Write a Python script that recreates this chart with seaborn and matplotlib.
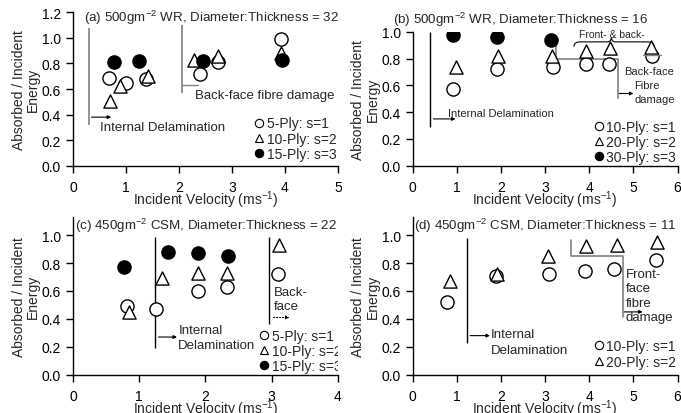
import numpy as np
import pandas as pd
import matplotlib
matplotlib.use("Agg")
import matplotlib.pyplot as plt
import seaborn as sns
from matplotlib.lines import Line2D
from matplotlib.path import Path
from matplotlib.patches import PathPatch
from matplotlib.ticker import FormatStrFormatter

# ---------------- data ----------------
# (a) 500 g/m2 WR, D:T = 32
a5_x = [0.67, 1.00, 1.37, 2.40, 2.74, 3.92]
a5_y = [0.69, 0.65, 0.68, 0.72, 0.81, 0.99]
a10_x = [0.70, 0.89, 1.41, 2.29, 2.74, 3.92]
a10_y = [0.51, 0.62, 0.70, 0.83, 0.86, 0.88]
a15_x = [0.77, 1.25, 2.45, 3.95]
a15_y = [0.81, 0.82, 0.82, 0.83]
a_labels = ["5-Ply: s=1", "10-Ply: s=2", "15-Ply: s=3"]

# (b) 500 g/m2 WR, D:T = 16
b10_x = [0.92, 1.91, 3.18, 3.93, 4.44, 5.41]
b10_y = [0.575, 0.72, 0.74, 0.76, 0.76, 0.82]
b20_x = [0.98, 1.93, 3.16, 3.93, 4.46, 5.40]
b20_y = [0.735, 0.82, 0.82, 0.86, 0.877, 0.89]
b30_x = [0.92, 1.91, 3.14]
b30_y = [0.98, 0.96, 0.94]
b_labels = ["10-Ply: s=1", "20-Ply: s=2", "30-Ply: s=3"]

# (c) 450 g/m2 CSM, D:T = 22
c5_x = [0.81, 1.25, 1.89, 2.33, 3.10]
c5_y = [0.49, 0.47, 0.60, 0.63, 0.72]
c10_x = [0.85, 1.35, 1.89, 2.33, 3.11]
c10_y = [0.45, 0.69, 0.73, 0.73, 0.93]
c15_x = [0.77, 1.43, 1.89, 2.34]
c15_y = [0.77, 0.88, 0.87, 0.85]
c_labels = ["5-Ply: s=1", "10-Ply: s=2", "15-Ply: s=3"]

# (d) 450 g/m2 CSM, D:T = 11
d10_x = [0.77, 1.88, 3.09, 3.91, 4.57, 5.51]
d10_y = [0.52, 0.71, 0.72, 0.74, 0.755, 0.82]
d20_x = [0.84, 1.90, 3.06, 3.93, 4.63, 5.53]
d20_y = [0.67, 0.72, 0.85, 0.92, 0.93, 0.95]
d_labels = ["10-Ply: s=1", "20-Ply: s=2"]

titles = ["(a) 500gm$^{-2}$ WR, Diameter:Thickness = 32",
          "(b) 500gm$^{-2}$ WR, Diameter:Thickness = 16",
          "(c) 450gm$^{-2}$ CSM, Diameter:Thickness = 22",
          "(d) 450gm$^{-2}$ CSM, Diameter:Thickness = 11"]

# ---------------- style ----------------
sns.set_style("ticks")
plt.rcParams["font.family"] = ["Liberation Sans", "DejaVu Sans"]
plt.rcParams["mathtext.fontset"] = "custom"
plt.rcParams["mathtext.rm"] = "Liberation Sans"
plt.rcParams["mathtext.it"] = "Liberation Sans:italic"
plt.rcParams["mathtext.default"] = "regular"
plt.rcParams["axes.edgecolor"] = "black"
plt.rcParams["xtick.color"] = "black"
plt.rcParams["ytick.color"] = "black"

FS = 10
TFS = 9.6
AFS = 9.5
GRAY = "#808080"
STYLES = [dict(marker="o", color="white"),
          dict(marker="^", color="white"),
          dict(marker="o", color="black")]
S = 90

fig = plt.figure(figsize=(6.81, 4.14), dpi=100)
L1, L2, W = 0.1072, 0.606, 0.389
axA = fig.add_axes([L1, 0.5973, W, 0.3705])
axB = fig.add_axes([L2, 0.5973, W, 0.3230])
axC = fig.add_axes([L1, 0.0925, W, 0.3809])
axD = fig.add_axes([L2, 0.0925, W, 0.3809])


def scatter_series(ax, xs_list, ys_list, labels):
    frames = []
    for xs, ys, lab in zip(xs_list, ys_list, labels):
        frames.append(pd.DataFrame({"x": xs, "y": ys, "series": lab}))
    df = pd.concat(frames, ignore_index=True)
    for i, lab in enumerate(labels):
        sub = df[df["series"] == lab]
        sns.scatterplot(data=sub, x="x", y="y", ax=ax, s=S,
                        marker=STYLES[i]["marker"], color=STYLES[i]["color"],
                        edgecolor="black", linewidth=1.0, zorder=3, legend=False)


def setup(ax, xmax, ymax, yticks):
    ax.set_xlim(0, xmax)
    ax.set_ylim(0, ymax)
    ax.set_xticks(range(0, xmax + 1))
    ax.set_yticks(yticks)
    ax.yaxis.set_major_formatter(FormatStrFormatter("%.1f"))
    sns.despine(ax=ax)
    for sp in ("left", "bottom"):
        ax.spines[sp].set_linewidth(1.0)
    ax.tick_params(direction="out", length=5, width=1, labelsize=FS)
    ax.tick_params(axis="x", pad=5)
    ax.set_xlabel("Incident Velocity (ms$^{-1}$)", fontsize=FS, labelpad=-3.5)
    ax.set_ylabel("Absorbed / Incident\nEnergy", fontsize=FS, labelpad=1.5,
                  linespacing=1.0)


def legend(ax, labels, loc, anchor, clip=False):
    handles = []
    for i, lab in enumerate(labels):
        handles.append(Line2D([], [], ls="none", marker=STYLES[i]["marker"],
                              markerfacecolor=STYLES[i]["color"],
                              markeredgecolor="black", markersize=6,
                              markeredgewidth=0.8))
    leg = ax.legend(handles, labels, loc=loc, bbox_to_anchor=anchor,
                    frameon=False, fontsize=FS, handlelength=0.6,
                    handletextpad=0.25, labelspacing=0.1, borderpad=0.1,
                    borderaxespad=0.0)
    if clip:
        for t in leg.get_texts():
            t.set_clip_on(True)
            t.set_clip_box(ax.bbox)
    return leg


def vline(ax, x, y0, y1, color=GRAY, lw=1.2):
    ax.plot([x, x], [y0, y1], color=color, lw=lw, solid_capstyle="butt",
            zorder=2)


def arrow(ax, x0, x1, y, color="black", ls="-"):
    ax.annotate("", xy=(x1, y), xytext=(x0, y),
                arrowprops=dict(arrowstyle="-|>", color=color, lw=0.8,
                                mutation_scale=5, shrinkA=0, shrinkB=0,
                                linestyle=ls))


# ---------------- (a) ----------------
scatter_series(axA, [a5_x, a10_x, a15_x], [a5_y, a10_y, a15_y], a_labels)
setup(axA, 5, 1.2, np.arange(0, 1.21, 0.2))
axA.text(0.2, 1.165, titles[0], fontsize=TFS, va="center", ha="left")
vline(axA, 0.30, 0.32, 1.08)
arrow(axA, 0.35, 0.72, 0.38)
axA.text(0.51, 0.30, "Internal Delamination", fontsize=AFS, va="center")
vline(axA, 2.05, 0.57, 1.10)
axA.plot([2.05, 2.35], [0.63, 0.63], color=GRAY, lw=1.0)
axA.text(2.30, 0.55, "Back-face fibre damage", fontsize=AFS, va="center")
legend(axA, a_labels, "lower right", (1.0, 0.02))

# ---------------- (b) ----------------
scatter_series(axB, [b10_x, b20_x, b30_x], [b10_y, b20_y, b30_y], b_labels)
setup(axB, 6, 1.0, np.arange(0, 1.01, 0.2))
axB.text(-0.074, 1.10, titles[1], fontsize=TFS, va="center", ha="left",
         transform=axB.transAxes)
vline(axB, 0.39, 0.29, 1.0, color="black", lw=1.0)
arrow(axB, 0.47, 0.97, 0.35)
axB.text(0.81, 0.395, "Internal Delamination", fontsize=8, va="center")
axB.plot([3.24, 3.24, 4.65, 4.65], [0.94, 0.80, 0.80, 0.51], color=GRAY,
         lw=1.2, zorder=2)
arrow(axB, 4.68, 5.0, 0.54)
axB.text(5.02, 0.60, "Fibre", fontsize=8, va="center")
axB.text(5.02, 0.50, "damage", fontsize=8, va="center")
axB.text(4.78, 0.71, "Back-face", fontsize=8, va="center")
axB.plot([5.22, 5.62], [0.83, 0.83], color=GRAY, lw=1.0, zorder=4)
axB.text(3.77, 0.985, "Front- & back-", fontsize=7.5, va="center")
brace = Path([(3.65, 0.89), (3.66, 0.92), (3.72, 0.926), (3.80, 0.926),
              (4.40, 0.926),
              (4.47, 0.926), (4.49, 0.94), (4.50, 0.955),
              (4.51, 0.94), (4.53, 0.926), (4.60, 0.926),
              (5.32, 0.926),
              (5.40, 0.926), (5.46, 0.92), (5.47, 0.89)],
             [Path.MOVETO, Path.CURVE4, Path.CURVE4, Path.CURVE4,
              Path.LINETO,
              Path.CURVE4, Path.CURVE4, Path.CURVE4,
              Path.CURVE4, Path.CURVE4, Path.CURVE4,
              Path.LINETO,
              Path.CURVE4, Path.CURVE4, Path.CURVE4])
axB.add_patch(PathPatch(brace, fill=False, edgecolor="black", lw=0.8,
                        zorder=2))
legend(axB, b_labels, "lower right", (1.0, 0.0))

# ---------------- (c) ----------------
scatter_series(axC, [c5_x, c10_x, c15_x], [c5_y, c10_y, c15_y], c_labels)
setup(axC, 4, 1.13, np.arange(0, 1.01, 0.2))
axC.text(0.03, 1.075, titles[2], fontsize=TFS, va="center", ha="left")
vline(axC, 1.24, 0.19, 0.99, color="black", lw=1.0)
arrow(axC, 1.29, 1.57, 0.27)
axC.text(1.59, 0.32, "Internal", fontsize=AFS, va="center")
axC.text(1.59, 0.215, "Delamination", fontsize=AFS, va="center")
vline(axC, 2.96, 0.36, 0.99, color="black", lw=1.0)
axC.text(3.03, 0.59, "Back-", fontsize=AFS, va="center")
axC.text(3.03, 0.49, "face", fontsize=AFS, va="center")
arrow(axC, 3.03, 3.27, 0.41, ls=":")
legend(axC, c_labels, "lower left", (0.70, 0.0), clip=True)

# ---------------- (d) ----------------
scatter_series(axD, [d10_x, d20_x], [d10_y, d20_y], d_labels)
setup(axD, 6, 1.13, np.arange(0, 1.01, 0.2))
axD.text(0.03, 1.075, titles[3], fontsize=TFS, va="center", ha="left")
vline(axD, 1.22, 0.23, 0.98, color="black", lw=1.0)
arrow(axD, 1.30, 1.75, 0.28)
axD.text(1.76, 0.29, "Internal", fontsize=AFS, va="center")
axD.text(1.76, 0.18, "Delamination", fontsize=AFS, va="center")
axD.plot([3.59, 3.59, 4.77, 4.77], [0.965, 0.85, 0.85, 0.41], color=GRAY,
         lw=1.2, zorder=2)
arrow(axD, 4.79, 5.21, 0.45)
for txt, yy in zip(["Front-", "face", "fibre", "damage"],
                   [0.72, 0.62, 0.515, 0.41]):
    axD.text(4.83, yy, txt, fontsize=AFS, va="center")
legend(axD, d_labels, "lower right", (1.0, 0.03))

fig.savefig("out.png", dpi=100)
